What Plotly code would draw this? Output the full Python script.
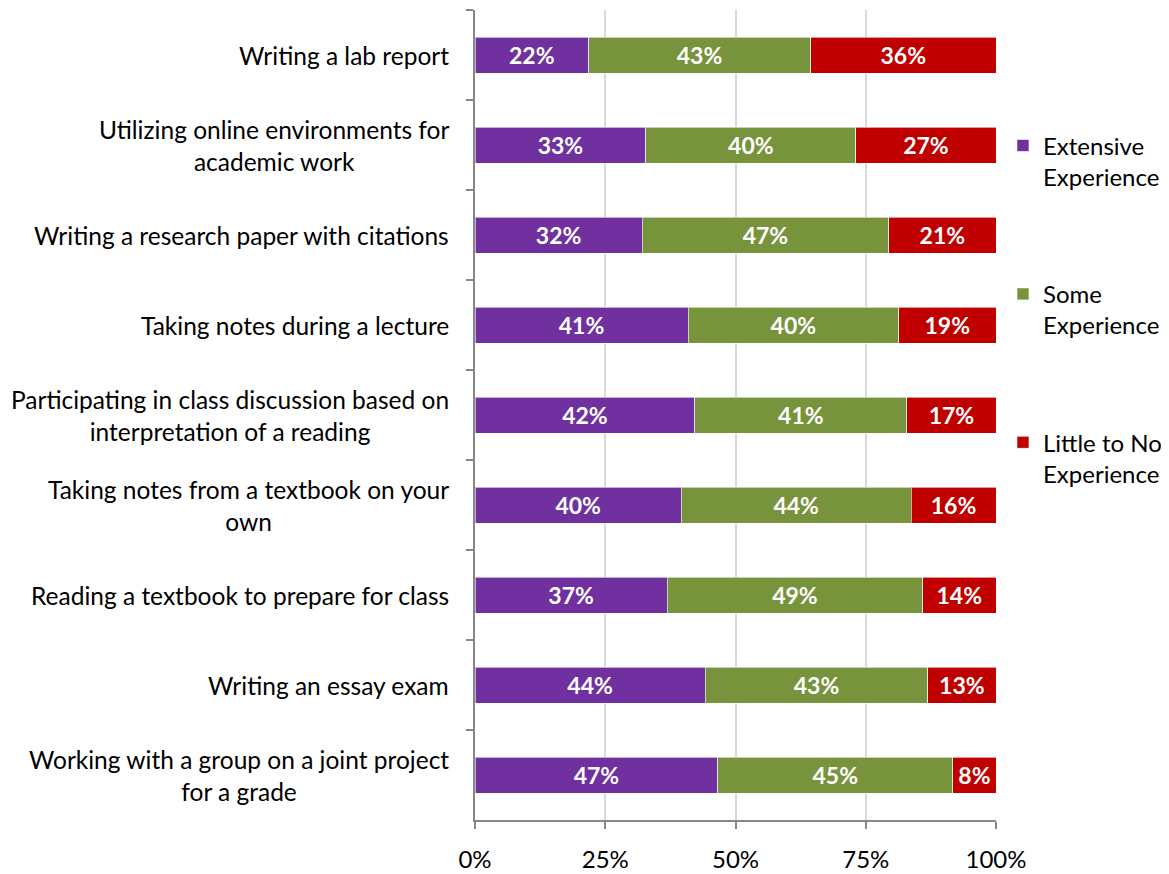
import plotly.graph_objects as go

categories = [
    "Writing a lab report",
    "Utilizing online environments for<br>academic work",
    "Writing a research paper with citations",
    "Taking notes during a lecture",
    "Participating in class discussion based on<br>interpretation of a reading",
    "Taking notes from a textbook on your<br>own",
    "Reading a textbook to prepare for class",
    "Writing an essay exam",
    "Working with a group on a joint project<br>for a grade",
]
extensive = [21.8, 32.8, 32.1, 40.9, 42.2, 39.6, 36.9, 44.2, 46.6]
some = [42.6, 40.3, 47.3, 40.4, 40.7, 44.1, 49.0, 42.7, 45.1]
little = [35.6, 26.9, 20.6, 18.7, 17.1, 16.3, 14.1, 13.1, 8.3]
series_names = ["Extensive<br>Experience", "Some<br>Experience", "Little to No<br>Experience"]
colors = ["#7030A0", "#77933C", "#C00000"]
x_ticks = [0, 25, 50, 75, 100]
x_tick_labels = ["0%", "25%", "50%", "75%", "100%"]

FONT = "Lato, 'Noto Sans', sans-serif"

fig = go.Figure()
for name, vals, col in zip(series_names, [extensive, some, little], colors):
    fig.add_trace(go.Bar(
        y=categories, x=vals, name=name, orientation="h",
        marker=dict(color=col, line=dict(color="rgba(255,255,255,0.6)", width=1)),
        texttemplate="<b>%{x:.0f}%</b>", textposition="inside",
        insidetextanchor="middle", constraintext="none",
        textfont=dict(color="white", size=23, family=FONT),
        legendgroup=name,
    ))

# category labels (centered multi-line, like the original)
for c in categories:
    fig.add_annotation(
        x=0, xref="paper", xanchor="right", xshift=-24,
        y=c, yref="y", yanchor="middle",
        text=c, showarrow=False, align="center",
        font=dict(size=24.5, color="#000000", family=FONT),
    )

# page body adds an 8px margin, so the figure is offset by 8px
fig.update_layout(
    width=1161, height=866,
    margin=dict(l=467, r=173, t=2, b=54, autoexpand=False),
    barmode="stack", bargap=0.6,
    plot_bgcolor="white", paper_bgcolor="white",
    font=dict(family=FONT, color="#000000"),
    showlegend=True,
    legend=dict(
        x=1.0134, xanchor="left", y=0.86, yanchor="top",
        traceorder="grouped", tracegroupgap=83, valign="top",
        font=dict(size=24, color="#000000", family=FONT),
        itemwidth=30,
    ),
)
fig.update_xaxes(
    range=[0, 100], tickvals=x_ticks, ticktext=x_tick_labels,
    showgrid=True, gridcolor="#D9D9D9", gridwidth=1.5,
    showline=True, linecolor="#868686", linewidth=1.5,
    ticks="outside", ticklen=7, tickcolor="#868686", tickwidth=1.5,
    ticklabelstandoff=10,
    tickfont=dict(size=24, color="#000000", family=FONT),
    zeroline=False, fixedrange=True,
)
fig.update_yaxes(
    autorange="reversed", showticklabels=False,
    showline=True, linecolor="#868686", linewidth=1.5,
    ticks="outside", ticklen=7, tickcolor="#868686", tickwidth=1.5,
    tickson="boundaries", showgrid=False,
)

fig.write_html("out.html")
